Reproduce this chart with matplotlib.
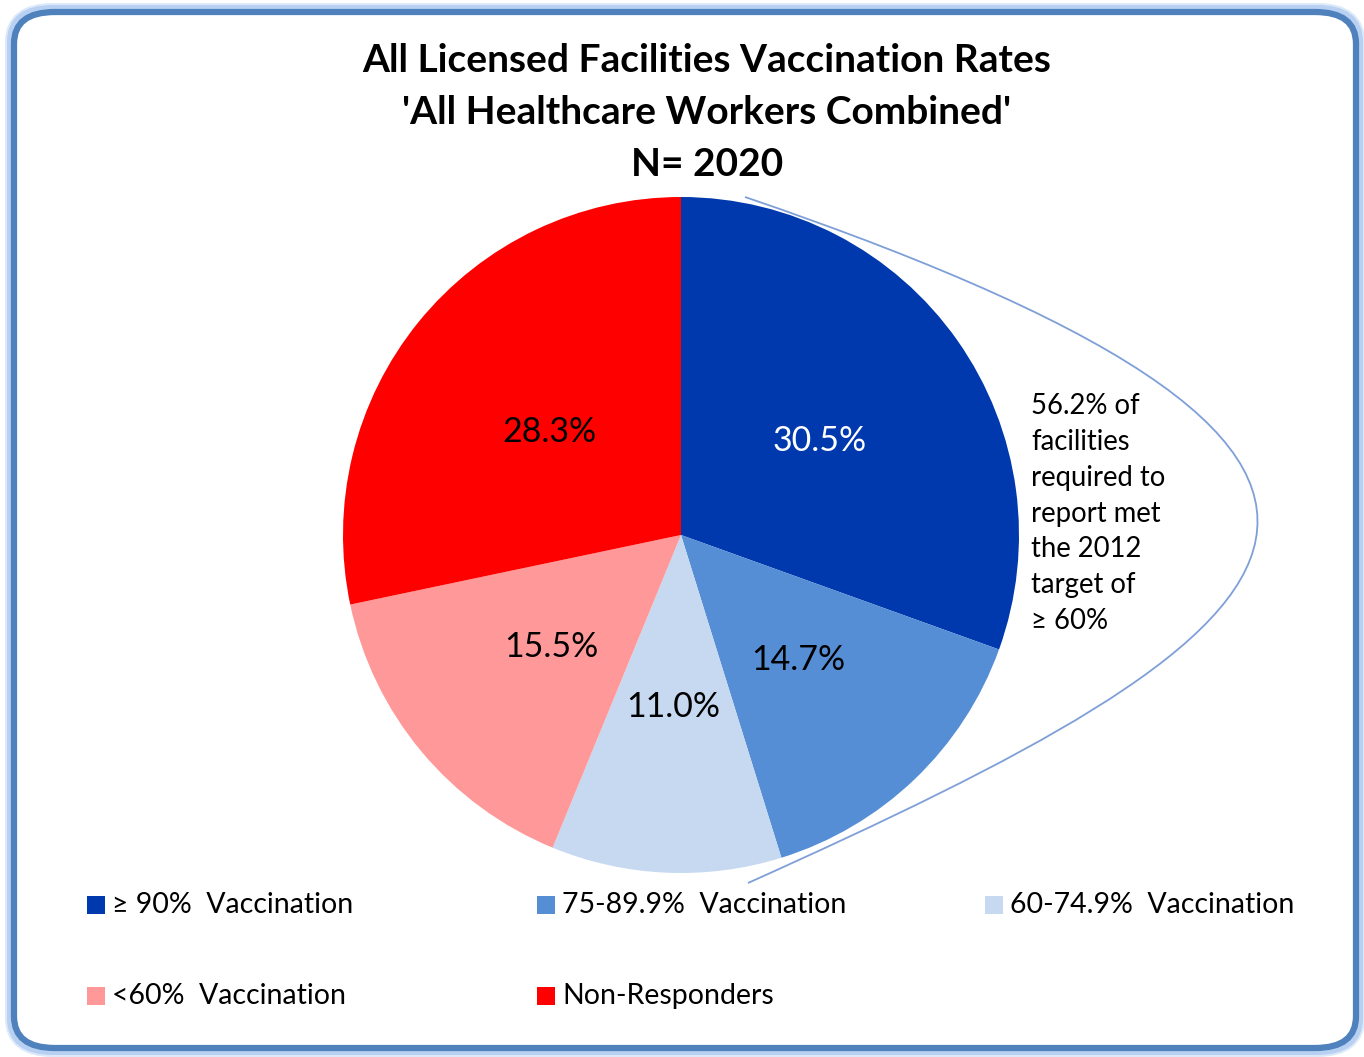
import matplotlib
matplotlib.use("Agg")
import matplotlib.pyplot as plt
from matplotlib.patches import FancyBboxPatch, Rectangle, PathPatch
from matplotlib.path import Path

plt.rcParams['font.family'] = ['Lato', 'DejaVu Sans']

categories = ["\u2265 90%  Vaccination", "75-89.9%  Vaccination", "60-74.9%  Vaccination",
              "<60%  Vaccination", "Non-Responders"]
values = [30.5, 14.7, 11.0, 15.5, 28.3]
colors = ["#0039AE", "#558ED5", "#C6D9F1", "#FF9999", "#FF0000"]
label_colors = ["white", "black", "black", "black", "black"]
title = "All Licensed Facilities Vaccination Rates\n'All Healthcare Workers Combined'\nN= 2020"
callout = "56.2% of\nfacilities\nrequired to\nreport met\nthe 2012\ntarget of\n\u2265 60%"

W, H = 1364, 1057
fig = plt.figure(figsize=(W / 100, H / 100), dpi=100)

def fx(x): return x / W
def fy(y): return 1 - y / H

# border with glow
for lw, col, a in [(14, "#C6DBF5", 0.6), (10, "#A9C6EE", 0.7)]:
    fig.patches.append(FancyBboxPatch((fx(12), fy(1050)), fx(1346), 1040 / H,
                                      boxstyle="round,pad=0,rounding_size=0.03",
                                      transform=fig.transFigure, fc="none", ec=col,
                                      lw=lw * 0.72, alpha=a, zorder=-3))
fig.patches.append(FancyBboxPatch((fx(14), fy(1048)), fx(1342), 1036 / H,
                                  boxstyle="round,pad=0,rounding_size=0.03",
                                  transform=fig.transFigure, fc="white", ec="#4F81BD", lw=4.5,
                                  zorder=-2))

fig.text(fx(707), fy(43), title, ha="center", va="top", fontsize=28, fontweight="bold",
         linespacing=1.58)

R = 338
cx, cy = 681, 535
ax = fig.add_axes([fx(cx - R), fy(cy + R), 2 * R / W, 2 * R / H])
ax.set_zorder(1)
wedges, texts, autotexts = ax.pie(values, colors=colors, startangle=90, counterclock=False,
                                  autopct="%.1f%%", pctdistance=0.5, radius=1,
                                  wedgeprops=dict(linewidth=0),
                                  textprops=dict(fontsize=24.4))
for t, c in zip(autotexts, label_colors):
    t.set_color(c)
    x, y = t.get_position()
    t.set_position((x, y - 0.01))
ax.set_xlim(-1, 1)
ax.set_ylim(-1, 1)
ax.set_aspect("equal")
ax.axis("off")

# callout curve
verts = [(fx(745), fy(197)), (fx(1545), fy(470)), (fx(1300), fy(635)), (fx(748), fy(883))]
path = Path(verts, [Path.MOVETO, Path.CURVE4, Path.CURVE4, Path.CURVE4])
fig.patches.append(PathPatch(path, transform=fig.transFigure, fc="none", ec="#7F9FD8", lw=1.3,
                             zorder=2))

fig.text(fx(1031), fy(393), callout, ha="left", va="top", fontsize=19.8, linespacing=1.47,
         zorder=3)

# legend
pos = [(87, 905), (537, 905), (985, 905), (87, 996), (537, 996)]
for (x, y), lab, col in zip(pos, categories, colors):
    fig.patches.append(Rectangle((fx(x), fy(y + 9)), 18 / W, 18 / H, transform=fig.transFigure,
                                 fc=col, ec="none", zorder=3))
    fig.text(fx(x + 25), fy(y), lab, ha="left", va="center", fontsize=20.5, zorder=3)

fig.savefig("out.png", dpi=100)
